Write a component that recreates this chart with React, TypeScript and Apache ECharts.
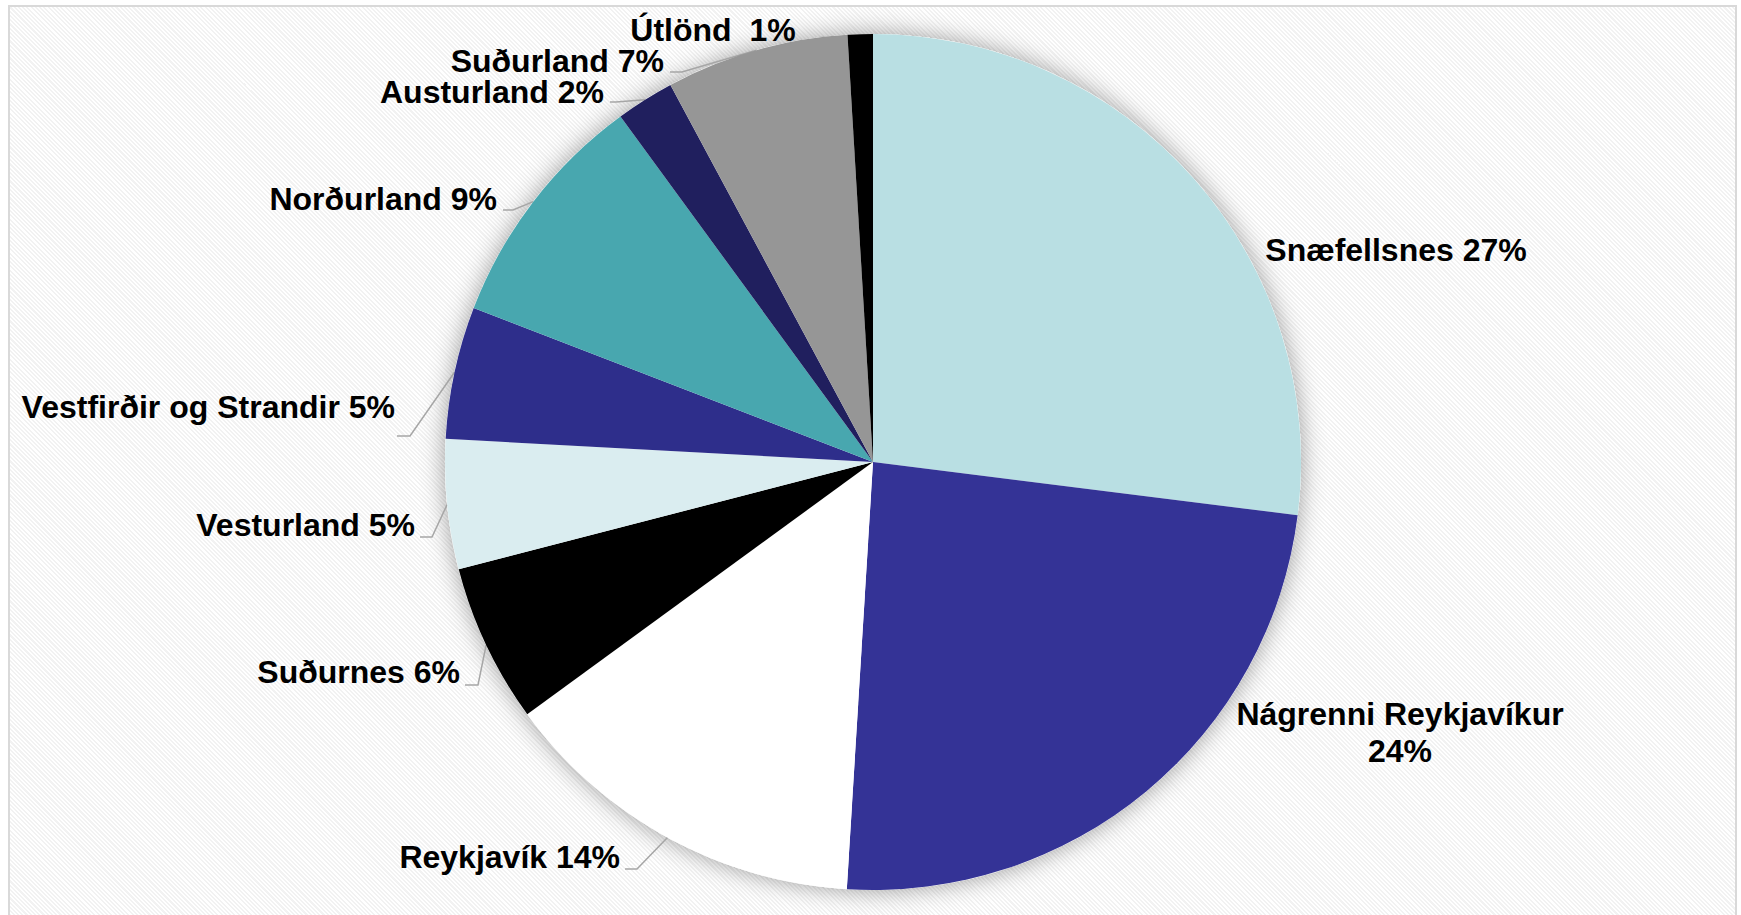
import React, { useEffect, useRef } from "react";
import * as echarts from "echarts";

// ---- Data ----
const regionNames = [
  "Snæfellsnes",
  "Nágrenni Reykjavíkur",
  "Reykjavík",
  "Suðurnes",
  "Vesturland",
  "Vestfirðir og Strandir",
  "Norðurland",
  "Austurland",
  "Suðurland",
  "Útlönd",
];
const shareValues = [27.0, 24.0, 14.0, 6.0, 4.9, 5.0, 9.1, 2.2, 6.9, 0.95];
const percentLabels = ["27%", "24%", "14%", "6%", "5%", "5%", "9%", "2%", "7%", "1%"];

// ---- Styles / layout ----
const sliceColors = [
  "#B9DFE3",
  "#343396",
  "#FFFFFF",
  "#000000",
  "#DAEDF0",
  "#2E2E8B",
  "#48A7AF",
  "#201F5E",
  "#969696",
  "#000000",
];
const labelSeparators = [" ", "\n", " ", " ", " ", " ", " ", " ", " ", "  "];

type LabelPlace = {
  x: number;
  y: number;
  align: "left" | "center" | "right";
  line?: [number, number, number]; // bendX, endX, lineY
};
const labelPlaces: LabelPlace[] = [
  { x: 1396, y: 250, align: "center" },
  { x: 1400, y: 732, align: "center" },
  { x: 620, y: 857, align: "right", line: [637, 625, 869] },
  { x: 460, y: 672, align: "right", line: [478, 465, 685] },
  { x: 415, y: 525, align: "right", line: [432, 420, 537] },
  { x: 395, y: 407, align: "right", line: [410, 397, 436] },
  { x: 497, y: 199, align: "right", line: [513, 503, 210] },
  { x: 604, y: 92, align: "right", line: [616, 610, 102] },
  { x: 664, y: 61, align: "right", line: [682, 670, 72] },
  { x: 713, y: 30, align: "center" },
];

const CENTER: [number, number] = [873, 462];
const RADIUS = 428;

export default function App() {
  const ref = useRef<HTMLDivElement>(null);

  useEffect(() => {
    if (!ref.current) return;
    const chart = echarts.init(ref.current, null, { renderer: "svg" });

    const data = regionNames.map((name, i) => ({
      name,
      value: shareValues[i],
      itemStyle: { color: sliceColors[i] },
      labelLine: {
        show: !!labelPlaces[i].line,
        lineStyle: { color: "#A6A6A6", width: 1.5 },
      },
    }));

    chart.setOption({
      animation: false,
      backgroundColor: "transparent",
      series: [
        {
          type: "pie",
          name: "shadow",
          silent: true,
          center: CENTER,
          radius: RADIUS,
          z: 1,
          label: { show: false },
          labelLine: { show: false },
          itemStyle: {
            color: "#ffffff",
            shadowBlur: 24,
            shadowColor: "rgba(0,0,0,0.38)",
            shadowOffsetX: 0,
            shadowOffsetY: 0,
          },
          data: [{ value: 1, name: "" }],
        },
        {
          type: "pie",
          name: "Skipting",
          center: CENTER,
          radius: RADIUS,
          startAngle: 90,
          clockwise: true,
          z: 2,
          avoidLabelOverlap: false,
          itemStyle: { borderWidth: 0 },
          label: {
            show: true,
            position: "outside",
            fontFamily: "Liberation Sans, Arial, sans-serif",
            fontWeight: "bold",
            fontSize: 32,
            lineHeight: 37,
            color: "#000000",
            formatter: (p: any) =>
              p.name + labelSeparators[p.dataIndex] + percentLabels[p.dataIndex],
          },
          labelLine: { show: true, length: 10, length2: 10 },
          labelLayout: (params: any) => {
            const i = params.dataIndex;
            const place = labelPlaces[i];
            const out: any = {
              x: place.x,
              y: place.y,
              align: place.align,
              verticalAlign: "middle",
            };
            if (place.line && params.labelLinePoints && params.labelLinePoints[0]) {
              const edge = params.labelLinePoints[0];
              out.labelLinePoints = [
                [edge[0], edge[1]],
                [place.line[0], place.line[2]],
                [place.line[1], place.line[2]],
              ];
            }
            return out;
          },
          data,
        },
      ],
    });

    return () => chart.dispose();
  }, []);

  const stripes =
    "repeating-linear-gradient(45deg, #ffffff 0px, #ffffff 1.5px, #f2f2f2 1.5px, #f2f2f2 3px)";

  return (
    <div
      style={{
        position: "fixed",
        left: 0,
        top: 0,
        width: 1741,
        height: 915,
        background: "#ffffff",
        overflow: "hidden",
      }}
    >
      <div
        style={{
          position: "absolute",
          left: 8,
          top: 5,
          width: 1729,
          height: 1000,
          boxSizing: "border-box",
          border: "2px solid #D9D9D9",
          background: stripes,
        }}
      />
      <div
        ref={ref}
        style={{ position: "absolute", left: 0, top: 0, width: 1741, height: 915 }}
      />
    </div>
  );
}
